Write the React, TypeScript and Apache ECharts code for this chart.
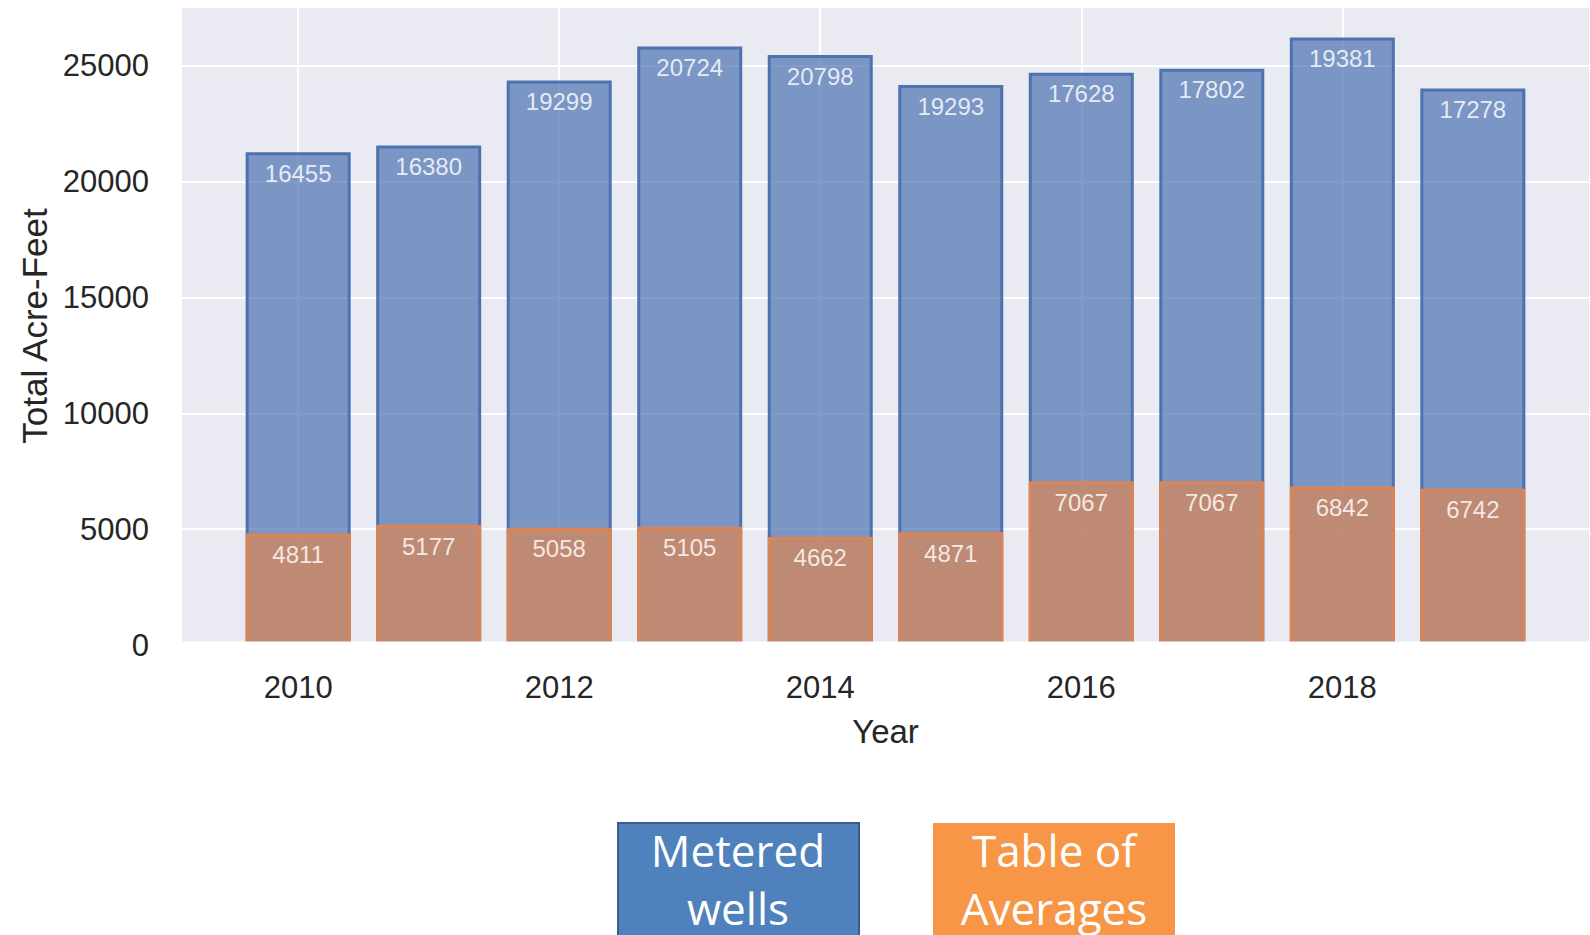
import React, { useEffect, useRef } from 'react';
import * as echarts from 'echarts';

const years = [2010, 2011, 2012, 2013, 2014, 2015, 2016, 2017, 2018, 2019];
const meteredWells = [16455, 16380, 19299, 20724, 20798, 19293, 17628, 17802, 19381, 17278];
const tableOfAverages = [4811, 5177, 5058, 5105, 4662, 4871, 7067, 7067, 6842, 6742];
const xTickValues = [2010, 2012, 2014, 2016, 2018];
const yAxisTitle = 'Total Acre-Feet';
const xAxisTitle = 'Year';
const legendMetered = 'Metered\nwells';
const legendTable = 'Table of\nAverages';

const FONT = '"Liberation Sans", Arial, sans-serif';
const BOX_FONT = '44px "Open Sans", "Noto Sans", sans-serif';

export default function App() {
  const ref = useRef<HTMLDivElement>(null);

  useEffect(() => {
    const chart = echarts.init(ref.current!, null, { renderer: 'svg' });
    const totals = years.map((y, i) => [y, meteredWells[i] + tableOfAverages[i]]);
    const tables = years.map((y, i) => [y, tableOfAverages[i]]);
    const maxTotal = Math.max(...totals.map((t) => t[1]));
    const yMax = maxTotal * 1.05;
    const span = years[years.length - 1] - years[0] + 0.8;
    const xMin = years[0] - 0.4 - 0.05 * span;
    const xMax = years[years.length - 1] + 0.4 + 0.05 * span;

    chart.setOption({
      animation: false,
      grid: {
        left: 182,
        top: 7,
        right: 1,
        bottom: 290,
        show: true,
        backgroundColor: '#eaeaf2',
        borderWidth: 0,
      },
      xAxis: {
        type: 'value',
        min: xMin,
        max: xMax,
        name: xAxisTitle,
        nameLocation: 'middle',
        nameGap: 70,
        nameTextStyle: { fontSize: 33, color: '#262626', fontFamily: FONT },
        axisLine: { show: false },
        axisTick: { show: false, customValues: xTickValues },
        axisLabel: {
          customValues: xTickValues,
          fontSize: 31,
          color: '#262626',
          fontFamily: FONT,
          margin: 27,
          formatter: (v: number) => String(v),
        },
        splitLine: { show: true, lineStyle: { color: '#ffffff', width: 2 } },
      },
      yAxis: {
        type: 'value',
        min: 0,
        max: yMax,
        interval: 5000,
        name: yAxisTitle,
        nameLocation: 'middle',
        nameRotate: 90,
        nameGap: 123,
        nameTextStyle: { fontSize: 35, color: '#262626', fontFamily: FONT },
        axisLine: { show: false },
        axisTick: { show: false },
        axisLabel: {
          fontSize: 31,
          color: '#262626',
          fontFamily: FONT,
          margin: 33,
          showMaxLabel: false,
          formatter: (v: number) => String(v),
        },
        splitLine: { show: true, lineStyle: { color: '#ffffff', width: 2 } },
      },
      series: [
        {
          type: 'bar',
          name: 'Metered wells',
          data: totals,
          barWidth: 105,
          barGap: '-100%',
          itemStyle: {
            color: 'rgba(76,114,176,0.7)',
            borderColor: '#4c72b0',
            borderWidth: 3,
          },
          label: {
            show: true,
            position: 'insideTop',
            distance: 9,
            fontSize: 24,
            fontFamily: FONT,
            color: 'rgba(255,255,255,0.82)',
            formatter: (p: any) => String(meteredWells[p.dataIndex]),
          },
        },
        {
          type: 'bar',
          name: 'Table of Averages',
          data: tables,
          barWidth: 105,
          barGap: '-100%',
          itemStyle: {
            color: 'rgba(221,132,82,0.7)',
            borderColor: '#dd8452',
            borderWidth: 3,
          },
          label: {
            show: true,
            position: 'insideTop',
            distance: 9,
            fontSize: 24,
            fontFamily: FONT,
            color: 'rgba(255,255,255,0.82)',
            formatter: (p: any) => String(tableOfAverages[p.dataIndex]),
          },
        },
      ],
      graphic: [
        {
          type: 'rect',
          z: 100,
          shape: { x: 180, y: 641.5, width: 1410, height: 5 },
          style: { fill: '#ffffff' },
          silent: true,
        },
        {
          type: 'rect',
          z: 100,
          shape: { x: 618, y: 823, width: 241, height: 130 },
          style: { fill: '#4f81bd', stroke: '#385d8a', lineWidth: 2 },
          silent: true,
        },
        {
          type: 'text',
          z: 101,
          x: 738,
          y: 879,
          style: {
            text: legendMetered,
            fill: '#ffffff',
            font: BOX_FONT,
            lineHeight: 58,
            align: 'center',
            verticalAlign: 'middle',
          },
          silent: true,
        },
        {
          type: 'rect',
          z: 100,
          shape: { x: 933, y: 823, width: 242, height: 130 },
          style: { fill: '#f79646' },
          silent: true,
        },
        {
          type: 'text',
          z: 101,
          x: 1054,
          y: 879,
          style: {
            text: legendTable,
            fill: '#ffffff',
            font: BOX_FONT,
            lineHeight: 58,
            align: 'center',
            verticalAlign: 'middle',
          },
          silent: true,
        },
      ],
    });

    return () => {
      chart.dispose();
    };
  }, []);

  return (
    <div
      ref={ref}
      style={{ position: 'fixed', left: 0, top: 0, width: 1590, height: 935, background: '#ffffff' }}
    />
  );
}
